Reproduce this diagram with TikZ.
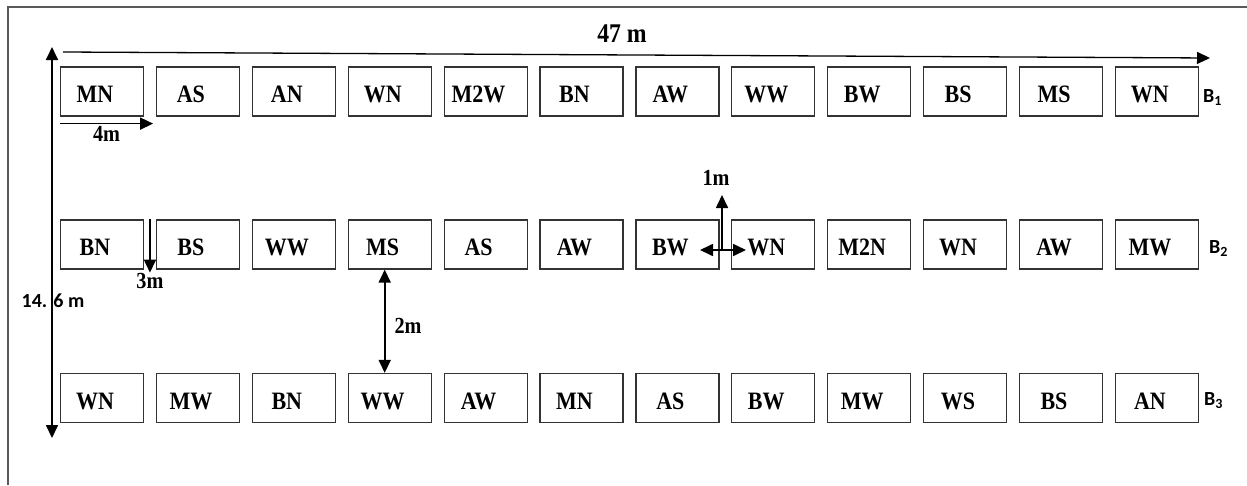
\documentclass[tikz,border=0pt]{standalone}
\usepackage{fontspec}
\setmainfont{Liberation Serif}
\newfontfamily\plotfont[FakeStretch=0.88]{Liberation Serif}
\newfontfamily\calib{Carlito}
\usetikzlibrary{positioning, calc, arrows.meta}

\tikzset{
  plotbox/.style={draw=black!80, line width=1.2pt, minimum width=83pt, minimum height=49pt, inner sep=0pt},
  crop/.style={font=\plotfont\bfseries\fontsize{25}{25}\selectfont, xshift=-7pt, yshift=-3pt},
  dim/.style={line width=1.7pt},
  dimlbl/.style={font=\plotfont\bfseries\fontsize{23}{23}\selectfont, inner sep=1pt},
  blocklbl/.style={font=\calib\bfseries\fontsize{20}{20}\selectfont, inner sep=0pt, anchor=west},
}

\begin{document}
\begin{tikzpicture}[x=1pt, y=-1pt, >={Triangle[length=13pt,width=12pt]}]
  \useasboundingbox (0,0) rectangle (1247,485);
  % frame
  \draw[black!65, line width=1.4pt] (8,485) -- (8,7) -- (1247,7);

  % block 1
  \foreach \t [count=\i] in {MN,AS,AN,WN,M2W,BN,AW,WW,BW,BS,MS,WN}
    \node[plotbox, label={[crop]center:\t}] (a\i) at ({102+95.9*(\i-1)}, 91.5) {};
  % block 2
  \foreach \t [count=\i] in {BN,BS,WW,MS,AS,AW,BW,WN,M2N,WN,AW,MW}
    \node[plotbox, label={[crop]center:\t}] (b\i) at ({102+95.9*(\i-1)}, 244.5) {};
  % block 3
  \foreach \t [count=\i] in {WN,MW,BN,WW,AW,MN,AS,BW,MW,WS,BS,AN}
    \node[plotbox, label={[crop]center:\t}] (c\i) at ({102+95.9*(\i-1)}, 398) {};

  \node[blocklbl] (B1) at ([xshift=4pt,yshift=-6pt]a12.east) {B\textsubscript{1}};
  \node[blocklbl] (B2) at ([xshift=10pt,yshift=-4pt]b12.east) {B\textsubscript{2}};
  \node[blocklbl] (B3) at ([xshift=5pt,yshift=-3pt]c12.east) {B\textsubscript{3}};

  % length of field
  \coordinate (topL) at (63,52);
  \coordinate (topR) at (1210,58);
  \draw[dim, line width=1.3pt, ->] (topL) -- (topR);
  \node[dimlbl, font=\plotfont\bfseries\fontsize{27}{27}\selectfont] (len) at (622,34) {47 m};

  % width of field
  \coordinate (sideT) at (52,47);
  \coordinate (sideB) at (52,438);
  \draw[dim, <->] (sideT) -- (sideB);
  \node[font=\calib\bfseries\fontsize{20}{20}\selectfont, inner sep=0pt] (wid) at (53,301) {14. 6 m};

  % plot length
  \draw[dim, ->] ([yshift=-7pt]a1.south west) -- node[dimlbl, below=1pt] (four) {4m} ([xshift=9pt,yshift=-7pt]a1.south east);

  % gap between plots
  \coordinate (gapT) at ($(b1.north east)!0.5!(b2.north west)$);
  \coordinate (gapB) at ([yshift=-3pt]$(b1.south east)!0.5!(b2.south west)$);
  \draw[dim, ->] (gapT) -- (gapB) node[dimlbl, below=-1pt] (three) {3m};

  % gap between blocks
  \draw[dim, <->] ([xshift=-5pt]b4.south) -- node[dimlbl, right=8pt, yshift=-5pt] (two) {2m} ([xshift=-5pt]c4.north);

  % plot width
  \coordinate (cross) at (722,250);
  \coordinate (crossU) at (722,195);
  \coordinate (crossL) at (700,250);
  \coordinate (crossR) at (746,250);
  \draw[dim, ->] (cross) -- (crossU);
  \draw[dim, <->] (crossL) -- (crossR);
  \node[dimlbl] (one) at (716,178) {1m};
\end{tikzpicture}
\end{document}
